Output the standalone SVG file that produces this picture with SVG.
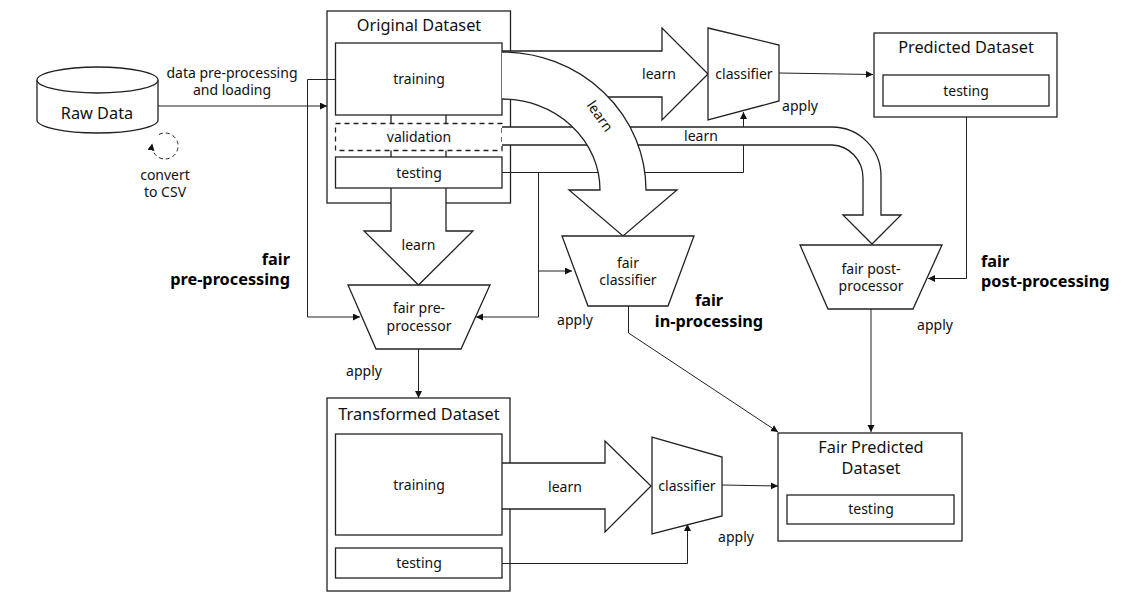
<svg xmlns="http://www.w3.org/2000/svg" width="1146" height="599" viewBox="0 0 1146 599">
<style>
text{font-family:"Noto Sans","Open Sans","Liberation Sans",sans-serif;font-size:14px;fill:#111;text-anchor:middle}
.t{font-size:16.300px}
.b{font-size:16.300px;font-weight:700;fill:#000}
.box,.shape{fill:#fff;stroke:#222;stroke-width:1.300}
.dash{fill:#fff;stroke:#222;stroke-width:1.300;stroke-dasharray:5 4}
.c{fill:none;stroke:#222;stroke-width:1;marker-end:url(#a)}
.n{fill:none;stroke:#222;stroke-width:1}
</style>
<defs><marker id="a" markerWidth="8" markerHeight="8" refX="7" refY="3.500" orient="auto" markerUnits="userSpaceOnUse"><path d="M0 0L7 3.500L0 7Z" fill="#111"/></marker></defs>
<rect width="1146" height="599" fill="#fff"/>

<g id="original-dataset">
<rect class="box" x="327" y="11" width="183.500" height="192"/>
<text class="t" x="419" y="31">Original Dataset</text>
</g>
<g id="transformed-dataset"><rect class="box" x="327" y="398" width="183" height="193"/><text class="t" x="419" y="420">Transformed Dataset</text></g>

<g id="connectors">
<path class="c" d="M158 106H327"/>
<path class="c" d="M335 79.500H307.500V317H360"/>
<path class="n" d="M502 172.500H743.500V145"/>
<path class="c" d="M743.500 127V112"/>
<path class="n" d="M538.500 173V317"/>
<path class="c" d="M538.500 317H476"/>
<path class="c" d="M538.500 271H572"/>
<path class="c" d="M418.500 349V398"/>
<path class="c" d="M779 73L873 74.500"/>
<path class="c" d="M966.500 106V278.500H928"/>
<path class="c" d="M628.500 306V333L778 432"/>
<path class="c" d="M871 309V432"/>
<path class="c" d="M722 485L778 486"/>
<path class="c" d="M502 563.500H687.500V524"/>
<path class="c" d="M159 134.500A13 13 0 1 1 152.300 143.500" stroke-dasharray="4 3"/>
</g>

<g id="arrow-pre"><path class="shape" d="M391 115V231H364L418.500 285L473 231H446V115"/><text x="418.500" y="250">learn</text></g>
<g id="training"><rect class="box" x="335.500" y="43" width="166.500" height="72"/><text x="419" y="84">training</text></g>
<g id="validation"><rect class="dash" x="335.500" y="123.500" width="166.500" height="27"/><text x="419" y="142">validation</text></g>
<g id="testing"><rect class="box" x="335.500" y="157" width="166.500" height="31"/><text x="419" y="178">testing</text></g>

<g id="arrow-classifier"><path class="shape" d="M502 51H662V28L708 74L662 120V97H502"/><text x="659" y="79">learn</text></g>
<g id="arrow-post"><path class="shape" d="M502 127H832A49 49 0 0 1 881 176V215H901L872 244L843 215H863V178A32 33 0 0 0 832 145H502"/><text x="701" y="141">learn</text></g>
<g id="arrow-in"><path class="shape" d="M502 52A144 138 0 0 1 646 190H677L623 236L569 190H600A98 91 0 0 0 502 99"/><text transform="translate(600 116) rotate(55)" x="0" y="5">learn</text></g>

<g id="raw-data">
<path class="shape" d="M37 80V120C37 127 64 133 97.500 133S158 127 158 120V80"/>
<ellipse class="shape" cx="97.500" cy="80" rx="60.500" ry="13"/>
<text class="t" x="97" y="119">Raw Data</text>
</g>
<g id="classifier"><path class="shape" d="M708 28L779 45V101L708 120Z"/><text x="744" y="79">classifier</text></g>
<g id="predicted-dataset"><rect class="box" x="874" y="33" width="183" height="84"/><text class="t" x="966" y="53">Predicted Dataset</text><rect class="box" x="883" y="75" width="166" height="31"/><text x="966" y="96">testing</text></g>
<g id="fair-pre-processor"><path class="shape" d="M348 285H490L461 349H376Z"/><text x="419" y="313">fair pre-</text><text x="419" y="331">processor</text></g>
<g id="fair-classifier"><path class="shape" d="M562 236H694L668 306H588Z"/><text x="628" y="268">fair</text><text x="628" y="285">classifier</text></g>
<g id="fair-post-processor"><path class="shape" d="M800 245H942L913 309H828Z"/><text x="871" y="274">fair post-</text><text x="871" y="291">processor</text></g>
<g id="arrow-transformed"><path class="shape" d="M502 463H605V441L651 486L605 532V509H502"/><text x="565" y="492">learn</text></g>
<g id="training-2"><rect class="box" x="335.500" y="434" width="166.500" height="101"/><text x="419" y="490">training</text></g>
<g id="testing-2"><rect class="box" x="335.500" y="548" width="166.500" height="30"/><text x="419" y="568">testing</text></g>
<g id="classifier-2"><path class="shape" d="M652 437L722 457V516L652 534Z"/><text x="687" y="491">classifier</text></g>
<g id="fair-predicted-dataset"><rect class="box" x="778" y="433" width="184" height="108"/><text class="t" x="871" y="453">Fair Predicted</text><text class="t" x="871" y="474">Dataset</text><rect class="box" x="787" y="495" width="167" height="29"/><text x="871" y="514">testing</text></g>

<g id="labels">
<text x="232" y="78">data pre-processing</text>
<text x="232" y="95">and loading</text>
<text x="165" y="180">convert</text>
<text x="165" y="197">to CSV</text>
<text x="800" y="111">apply</text>
<text x="364" y="376">apply</text>
<text x="575" y="325">apply</text>
<text x="935" y="330">apply</text>
<text x="736" y="542">apply</text>
<text class="b" x="290" y="265" style="text-anchor:end">fair</text>
<text class="b" x="290" y="285" style="text-anchor:end">pre-processing</text>
<text class="b" x="709" y="306">fair</text>
<text class="b" x="709" y="327">in-processing</text>
<text class="b" x="981" y="267" style="text-anchor:start">fair</text>
<text class="b" x="981" y="287" style="text-anchor:start">post-processing</text>
</g>
</svg>
